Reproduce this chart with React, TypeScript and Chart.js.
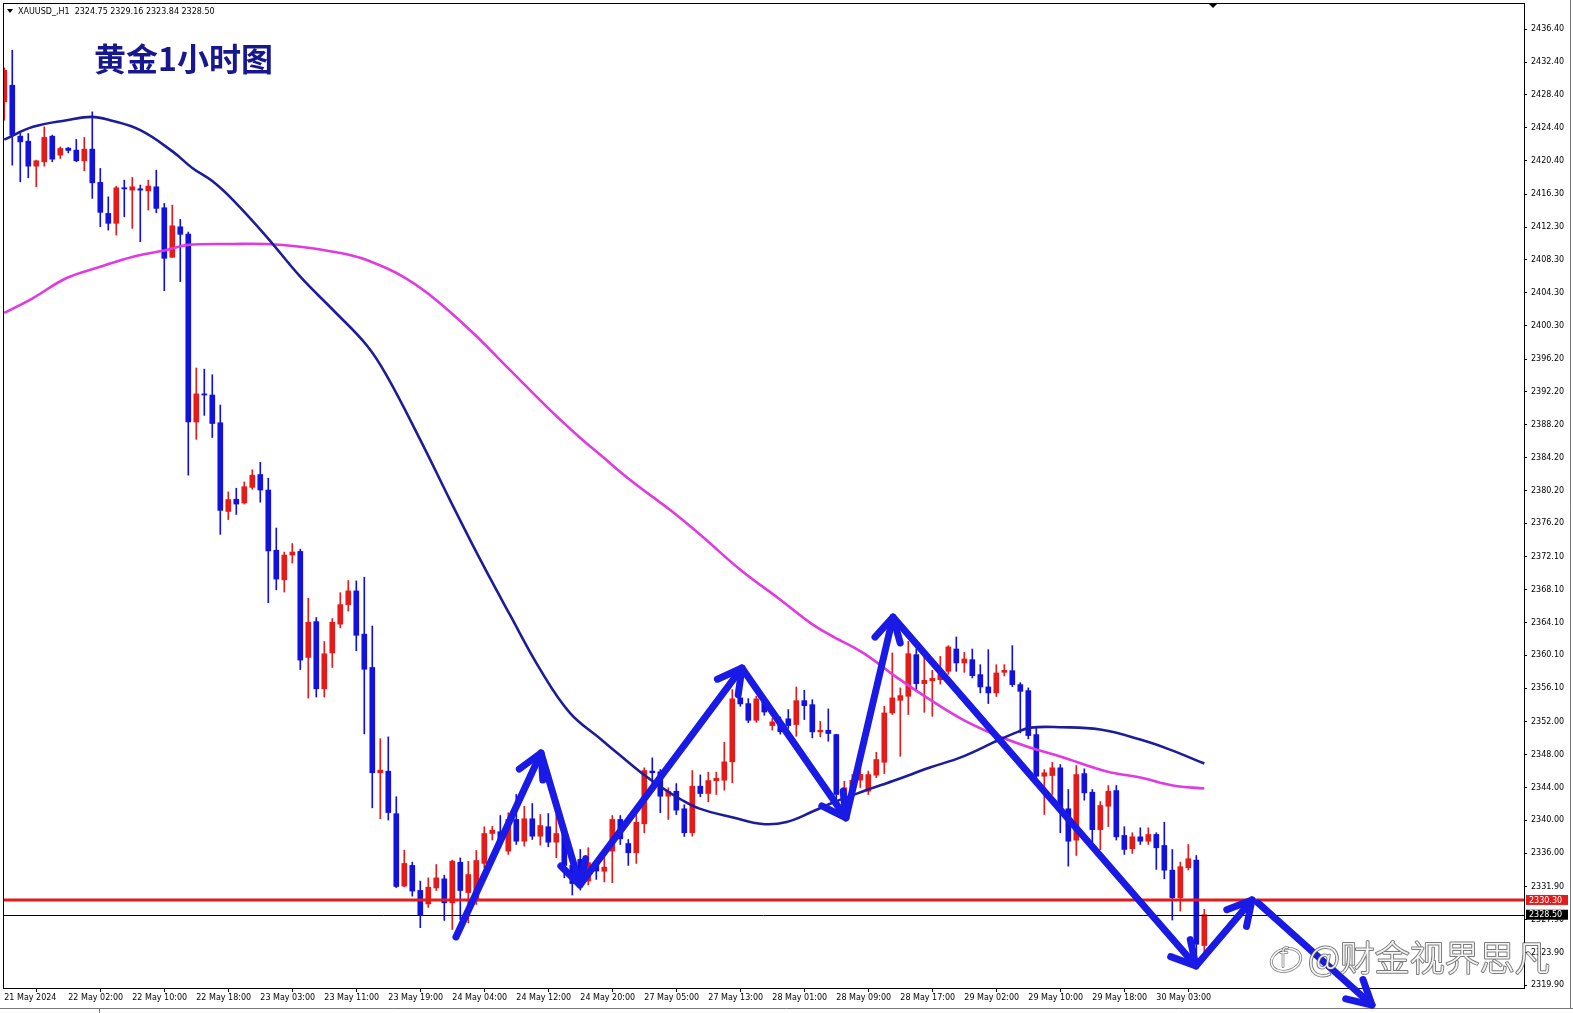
import React, { useEffect, useRef } from 'react';
import { Chart, registerables } from 'chart.js';

Chart.register(...registerables);

// ---- Candles (XAUUSD H1), index 0 = 21 May 18:00 ----
const opens = [
  2427.55, 2429.58, 2423.37, 2422.76, 2419.72, 2420.25, 2423.37, 2421.06, 2421.91, 2421.67,
  2420.37, 2421.79, 2417.74, 2413.96, 2412.75, 2417.08, 2416.80, 2416.96, 2416.71, 2417.20,
  2414.65, 2408.61, 2412.33, 2411.44, 2388.54, 2391.97, 2391.83, 2388.45, 2377.64, 2379.13,
  2378.67, 2380.57, 2382.14, 2380.25, 2372.91, 2369.31, 2372.33, 2372.77, 2359.85, 2364.22,
  2356.03, 2360.40, 2363.91, 2366.29, 2367.96, 2362.69, 2358.63, 2345.80, 2345.99, 2340.81,
  2331.99, 2334.51, 2331.46, 2329.82, 2331.77, 2332.87, 2329.95, 2334.89, 2331.20, 2330.36,
  2334.75, 2338.40, 2338.61, 2336.25, 2340.11, 2337.46, 2340.19, 2338.07, 2339.22, 2337.34,
  2338.40, 2334.50, 2335.24, 2332.60, 2334.84, 2333.80, 2336.25, 2340.11, 2337.18, 2336.05,
  2339.58, 2346.00, 2345.91, 2342.94, 2343.55, 2341.41, 2338.49, 2344.16, 2343.27, 2344.83,
  2344.89, 2347.13, 2354.92, 2354.23, 2352.19, 2354.50, 2351.55, 2352.00, 2352.37, 2351.67,
  2354.59, 2354.10, 2350.78, 2350.98, 2350.45, 2343.15, 2343.88, 2344.90, 2343.55, 2345.50,
  2347.08, 2353.09, 2354.63, 2355.12, 2360.19, 2356.66, 2357.00, 2357.14, 2358.16, 2360.88,
  2359.18, 2359.58, 2357.76, 2356.26, 2355.53, 2358.04, 2358.24, 2356.54, 2355.81, 2350.45,
  2345.38, 2345.46, 2346.40, 2341.41, 2337.59, 2345.70, 2343.43, 2338.86, 2341.72, 2343.63,
  2338.16, 2336.54, 2337.99, 2337.46, 2338.28, 2336.94, 2333.93, 2330.57, 2334.22, 2335.15,
  2324.75,
];
const highs = [
  2431.70, 2433.84, 2423.70, 2423.70, 2420.45, 2424.51, 2423.50, 2422.07, 2422.00, 2422.97,
  2423.22, 2426.33, 2419.44, 2415.98, 2417.29, 2418.02, 2418.35, 2417.41, 2418.02, 2419.23,
  2415.18, 2414.97, 2413.23, 2411.69, 2395.12, 2394.98, 2394.30, 2390.61, 2380.02, 2380.47,
  2381.24, 2382.72, 2383.63, 2381.69, 2375.62, 2372.69, 2373.73, 2373.05, 2367.06, 2364.72,
  2361.79, 2364.59, 2367.74, 2369.23, 2369.18, 2369.63, 2363.68, 2349.95, 2350.17, 2342.88,
  2336.37, 2334.91, 2332.60, 2332.99, 2334.62, 2333.32, 2335.15, 2335.42, 2335.00, 2336.33,
  2339.22, 2339.25, 2340.59, 2340.92, 2343.15, 2341.72, 2342.05, 2340.71, 2340.83, 2340.71,
  2339.00, 2335.20, 2336.45, 2336.66, 2335.00, 2335.50, 2340.59, 2340.59, 2337.67, 2340.71,
  2346.40, 2347.61, 2346.19, 2343.96, 2344.48, 2341.90, 2346.07, 2345.53, 2345.87, 2345.87,
  2349.52, 2355.93, 2356.37, 2354.84, 2355.12, 2355.00, 2352.40, 2352.60, 2353.50, 2356.26,
  2355.84, 2354.70, 2352.07, 2353.58, 2350.50, 2344.77, 2345.58, 2346.50, 2346.00, 2348.30,
  2353.90, 2360.40, 2356.14, 2361.81, 2360.88, 2359.98, 2358.28, 2359.98, 2361.29, 2362.35,
  2360.48, 2360.88, 2358.97, 2360.80, 2358.97, 2358.97, 2361.29, 2356.78, 2356.14, 2351.46,
  2346.19, 2347.08, 2346.80, 2343.76, 2346.68, 2346.28, 2343.76, 2342.30, 2344.24, 2344.24,
  2339.22, 2338.49, 2339.09, 2339.09, 2338.49, 2339.77, 2336.45, 2334.91, 2337.06, 2335.72,
  2329.16,
];
const lows = [
  2425.32, 2419.84, 2417.81, 2418.30, 2417.20, 2419.72, 2420.25, 2420.66, 2421.34, 2420.25,
  2419.15, 2415.79, 2412.33, 2411.93, 2411.32, 2413.55, 2412.14, 2410.51, 2414.37, 2414.04,
  2404.54, 2408.61, 2405.64, 2382.06, 2386.43, 2389.35, 2386.65, 2374.85, 2376.65, 2377.28,
  2378.54, 2380.34, 2378.77, 2366.52, 2368.09, 2367.82, 2371.34, 2358.37, 2354.90, 2355.03,
  2355.03, 2358.63, 2363.45, 2365.49, 2360.67, 2350.54, 2341.53, 2340.18, 2340.04, 2331.80,
  2331.90, 2330.77, 2326.92, 2329.39, 2331.45, 2327.80, 2326.71, 2327.89, 2327.50, 2329.75,
  2334.22, 2337.61, 2336.66, 2335.85, 2337.06, 2336.86, 2337.67, 2336.98, 2336.78, 2335.44,
  2333.00, 2330.90, 2331.50, 2332.14, 2332.80, 2332.50, 2332.40, 2337.06, 2334.51, 2334.75,
  2338.49, 2344.16, 2340.92, 2340.11, 2340.71, 2338.04, 2338.07, 2342.87, 2342.26, 2343.15,
  2343.68, 2344.57, 2353.90, 2351.90, 2351.95, 2352.80, 2351.00, 2350.50, 2351.20, 2350.25,
  2352.28, 2350.05, 2350.17, 2349.64, 2342.54, 2342.54, 2343.15, 2344.00, 2343.15, 2345.20,
  2345.70, 2352.90, 2347.81, 2352.89, 2355.90, 2353.17, 2352.68, 2356.60, 2357.80, 2358.16,
  2358.04, 2357.35, 2355.53, 2354.23, 2355.10, 2357.60, 2356.30, 2350.66, 2349.93, 2345.20,
  2340.71, 2343.15, 2338.49, 2334.42, 2335.72, 2342.46, 2337.34, 2336.41, 2339.22, 2337.60,
  2335.85, 2335.97, 2337.06, 2337.06, 2334.02, 2332.88, 2327.85, 2328.94, 2333.95, 2323.67,
  2323.84,
];
const closes = [
  2431.40, 2423.50, 2422.68, 2419.72, 2420.37, 2423.22, 2420.57, 2421.88, 2421.63, 2420.37,
  2421.79, 2417.69, 2414.09, 2412.75, 2417.08, 2416.96, 2417.20, 2416.80, 2417.29, 2414.57,
  2408.49, 2412.45, 2411.41, 2388.54, 2391.97, 2391.83, 2388.36, 2377.77, 2379.09, 2378.54,
  2380.66, 2382.06, 2380.25, 2372.83, 2369.40, 2372.33, 2372.69, 2359.53, 2364.14, 2356.03,
  2360.30, 2364.14, 2366.29, 2367.96, 2362.55, 2358.41, 2345.80, 2346.12, 2340.95, 2331.94,
  2334.75, 2331.38, 2328.42, 2331.85, 2332.99, 2329.95, 2335.03, 2331.45, 2333.40, 2335.11,
  2338.40, 2338.80, 2337.55, 2340.11, 2337.46, 2340.19, 2338.07, 2339.37, 2337.34, 2338.40,
  2334.50, 2332.30, 2331.99, 2334.84, 2333.82, 2334.30, 2340.11, 2337.75, 2336.05, 2339.77,
  2346.07, 2345.80, 2342.94, 2343.55, 2341.24, 2338.49, 2344.16, 2343.27, 2344.85, 2345.13,
  2347.13, 2354.80, 2354.19, 2352.19, 2354.80, 2353.20, 2352.00, 2350.80, 2351.55, 2354.59,
  2353.98, 2350.78, 2350.98, 2350.58, 2343.15, 2343.97, 2344.89, 2345.60, 2345.58, 2347.41,
  2353.09, 2354.92, 2355.20, 2360.31, 2356.66, 2357.06, 2357.30, 2357.76, 2361.13, 2359.18,
  2359.67, 2357.63, 2356.26, 2355.53, 2357.96, 2358.28, 2356.54, 2355.72, 2350.33, 2345.38,
  2345.79, 2346.40, 2341.24, 2337.46, 2345.58, 2343.35, 2338.86, 2341.81, 2343.55, 2337.99,
  2336.45, 2338.00, 2337.46, 2338.28, 2336.66, 2333.93, 2330.57, 2334.35, 2335.32, 2324.90,
  2328.50,
];

// ---- Moving averages (bar index, price) ----
const maFastIdx = [0, 3.6, 7.8, 10.9, 13.2, 17, 21.1, 23.5, 26, 28.6, 32.8, 37, 41.1, 45.3, 47.8, 52, 55.7, 59.5, 63.2, 67, 70.7, 74.5, 77, 79.5, 82, 84.5, 87, 91.1, 94.8, 97.8, 101.1, 103.6, 107.3, 111.6, 115.7, 119.8, 124.1, 126.6, 128.3, 131.9, 137, 142, 145.7, 150];
const maFastVal = [2422.95, 2424.51, 2425.32, 2425.72, 2425.32, 2424.10, 2421.46, 2419.50, 2417.90, 2415.58, 2411.11, 2406.25, 2402.19, 2397.90, 2394.20, 2386.37, 2379.06, 2371.76, 2365.06, 2358.37, 2353.10, 2349.95, 2347.90, 2345.90, 2344.13, 2342.60, 2341.40, 2340.35, 2339.55, 2339.80, 2341.10, 2342.17, 2343.51, 2344.97, 2346.43, 2347.77, 2349.70, 2350.75, 2351.30, 2351.35, 2351.06, 2349.84, 2348.62, 2346.92];
const maSlowIdx = [0, 3.6, 7.8, 12, 16.1, 20.3, 22.8, 28.6, 32.8, 37, 41.1, 43.2, 45.3, 49.5, 53.2, 58.2, 63.2, 68.2, 72, 74.5, 78.2, 83.2, 87, 92, 97, 100.7, 103.2, 107.3, 111.6, 115.7, 119.8, 124.1, 128.2, 132, 137.8, 142, 146.1, 150];
const maSlowVal = [2401.83, 2403.65, 2406.09, 2407.46, 2408.68, 2409.50, 2410.10, 2410.23, 2410.23, 2409.90, 2409.29, 2408.89, 2408.28, 2406.45, 2404.02, 2399.76, 2394.89, 2390.02, 2386.60, 2384.54, 2381.50, 2377.84, 2374.80, 2370.54, 2366.89, 2364.10, 2362.60, 2360.44, 2357.39, 2354.71, 2352.28, 2350.33, 2348.87, 2347.77, 2345.95, 2345.22, 2344.24, 2343.88];

// ---- Axis ticks ----
const xTickIdx = [0, 8, 16, 24, 32, 40, 48, 56, 64, 72, 80, 88, 96, 104, 112, 120, 128, 136, 144];
const xTickLabels = ['21 May 2024', '22 May 02:00', '22 May 10:00', '22 May 18:00', '23 May 03:00', '23 May 11:00', '23 May 19:00', '24 May 04:00', '24 May 12:00', '24 May 20:00', '27 May 05:00', '27 May 13:00', '28 May 01:00', '28 May 09:00', '28 May 17:00', '29 May 02:00', '29 May 10:00', '29 May 18:00', '30 May 03:00'];
const yTickValues = [2436.40, 2432.40, 2428.40, 2424.40, 2420.40, 2416.30, 2412.30, 2408.30, 2404.30, 2400.30, 2396.20, 2392.20, 2388.20, 2384.20, 2380.20, 2376.20, 2372.10, 2368.10, 2364.10, 2360.10, 2356.10, 2352.00, 2348.00, 2344.00, 2340.00, 2336.00, 2331.90, 2327.90, 2323.90, 2319.90];

// ---- Levels & annotations (data coordinates) ----
const resistLevel = 2330.30;
const bidPrice = 2328.50;
const zigzagIdx = [56.46, 67.09, 71.96, 92.21, 105.21, 111.09, 148.96, 155.96];
const zigzagVal = [2325.79, 2348.21, 2332.12, 2358.57, 2340.29, 2364.78, 2322.25, 2330.30];
const forecastIdx = [156.71, 170.96];
const forecastVal = [2329.93, 2317.50];

const symbolHeader = 'XAUUSD_,H1  2324.75 2329.16 2323.84 2328.50';
const titleText = '黄金1小时图';
const watermarkText = '@财金视界思凡';

const RED = '#e31b1b';
const BLUE = '#1212dc';
const ARROW = '#1a1ae6';
const AXIS_FONT = '"DejaVu Sans", sans-serif';

function arrowHead(ctx: CanvasRenderingContext2D, x0: number, y0: number, x1: number, y1: number) {
  const a = Math.atan2(y1 - y0, x1 - x0);
  const len = 27;
  const ang = 0.5;
  ctx.beginPath();
  ctx.moveTo(x1 - len * Math.cos(a - ang), y1 - len * Math.sin(a - ang));
  ctx.lineTo(x1, y1);
  ctx.lineTo(x1 - len * Math.cos(a + ang), y1 - len * Math.sin(a + ang));
  ctx.stroke();
}

const overlayPlugin = {
  id: 'mt4overlay',
  afterDatasetsDraw(chart: any) {
    const { ctx, chartArea: a, scales } = chart;
    const y = scales.y;
    ctx.save();
    const by = Math.round(y.getPixelForValue(bidPrice)) + 0.5;
    ctx.strokeStyle = '#000';
    ctx.lineWidth = 1;
    ctx.beginPath();
    ctx.moveTo(a.left, by);
    ctx.lineTo(a.right, by);
    ctx.stroke();
    const ry = y.getPixelForValue(resistLevel);
    ctx.strokeStyle = RED;
    ctx.lineWidth = 3;
    ctx.beginPath();
    ctx.moveTo(a.left, ry);
    ctx.lineTo(a.right, ry);
    ctx.stroke();
    ctx.strokeStyle = '#000';
    ctx.lineWidth = 1;
    ctx.strokeRect(Math.round(a.left) + 0.5, Math.round(a.top) + 0.5, Math.round(a.right - a.left), Math.round(a.bottom - a.top));
    ctx.restore();
  },
  afterDraw(chart: any) {
    const { ctx, chartArea: a, scales, width, height } = chart;
    const x = scales.x;
    const y = scales.y;
    ctx.save();

    const boxes = [
      { v: resistLevel, bg: RED },
      { v: bidPrice, bg: '#000' },
    ];
    ctx.font = '8px ' + AXIS_FONT;
    ctx.textBaseline = 'middle';
    ctx.textAlign = 'left';
    boxes.forEach((b) => {
      const py = y.getPixelForValue(b.v);
      ctx.fillStyle = b.bg;
      ctx.fillRect(a.right + 2, py - 5, 42, 10);
      ctx.fillStyle = '#fff';
      ctx.fillText(b.v.toFixed(2), a.right + 5, py + 0.5);
    });

    ctx.strokeStyle = '#777';
    ctx.lineWidth = 1;
    ctx.beginPath();
    ctx.moveTo(1570.5, 0);
    ctx.lineTo(1570.5, 1008.5);
    ctx.moveTo(0, 1008.5);
    ctx.lineTo(width, 1008.5);
    ctx.moveTo(99.5, 1008.5);
    ctx.lineTo(99.5, height);
    ctx.stroke();

    ctx.fillStyle = '#000';
    ctx.beginPath();
    ctx.moveTo(1209, a.top + 1);
    ctx.lineTo(1217, a.top + 1);
    ctx.lineTo(1213, a.top + 5);
    ctx.closePath();
    ctx.fill();

    ctx.beginPath();
    ctx.moveTo(7, 9);
    ctx.lineTo(13, 9);
    ctx.lineTo(10, 13);
    ctx.closePath();
    ctx.fill();
    ctx.font = '8px ' + AXIS_FONT;
    ctx.textBaseline = 'middle';
    ctx.fillText(symbolHeader, 18, 11.5);

    ctx.font = 'bold 32px "Noto Sans CJK SC", sans-serif';
    ctx.fillStyle = '#17178e';
    ctx.textBaseline = 'middle';
    ctx.fillText(titleText, 94, 59);

    ctx.strokeStyle = ARROW;
    ctx.lineWidth = 7;
    ctx.lineCap = 'round';
    ctx.lineJoin = 'round';
    const pts = zigzagIdx.map((k, i) => [x.getPixelForValue(k), y.getPixelForValue(zigzagVal[i])]);
    ctx.beginPath();
    pts.forEach((p, i) => (i === 0 ? ctx.moveTo(p[0], p[1]) : ctx.lineTo(p[0], p[1])));
    ctx.stroke();
    for (let i = 1; i < pts.length; i++) {
      arrowHead(ctx, pts[i - 1][0], pts[i - 1][1], pts[i][0], pts[i][1]);
    }
    const f0 = [x.getPixelForValue(forecastIdx[0]), y.getPixelForValue(forecastVal[0])];
    const f1 = [x.getPixelForValue(forecastIdx[1]), y.getPixelForValue(forecastVal[1])];
    ctx.beginPath();
    ctx.moveTo(f0[0], f0[1]);
    ctx.lineTo(f1[0], f1[1]);
    ctx.stroke();
    arrowHead(ctx, f0[0], f0[1], f1[0], f1[1]);

    ctx.lineCap = 'butt';
    ctx.font = '300 35px "Noto Sans CJK SC", sans-serif';
    ctx.textBaseline = 'middle';
    ctx.textAlign = 'left';
    ctx.lineWidth = 2;
    ctx.strokeStyle = 'rgba(80,80,80,0.75)';
    ctx.strokeText(watermarkText, 1308, 958);
    ctx.fillStyle = 'rgba(255,255,255,0.92)';
    ctx.fillText(watermarkText, 1308, 958);
    ctx.save();
    ctx.translate(1286, 960);
    ctx.rotate(-0.3);
    ctx.beginPath();
    ctx.ellipse(0, 0, 15, 11, 0, 0, Math.PI * 2);
    ctx.strokeStyle = 'rgba(80,80,80,0.75)';
    ctx.lineWidth = 3;
    ctx.stroke();
    ctx.strokeStyle = 'rgba(255,255,255,0.95)';
    ctx.lineWidth = 1.5;
    ctx.stroke();
    ctx.restore();
    ctx.font = '300 26px "DejaVu Sans", sans-serif';
    ctx.lineWidth = 1.5;
    ctx.strokeStyle = 'rgba(80,80,80,0.75)';
    ctx.strokeText('f', 1279, 960);
    ctx.fillStyle = 'rgba(255,255,255,0.95)';
    ctx.fillText('f', 1279, 960);

    ctx.restore();
  },
};

export default function App() {
  const canvasRef = useRef<HTMLCanvasElement | null>(null);

  useEffect(() => {
    document.body.style.margin = '0';
    const canvas = canvasRef.current;
    if (!canvas) return;

    const colors = opens.map((o, i) => (closes[i] >= o ? RED : BLUE));
    const wicks = opens.map((_, i) => ({ x: i, y: [lows[i], highs[i]] }));
    const bodies = opens.map((o, i) => {
      let lo = Math.min(o, closes[i]);
      let hi = Math.max(o, closes[i]);
      if (hi - lo < 0.14) {
        const m = (hi + lo) / 2;
        lo = m - 0.07;
        hi = m + 0.07;
      }
      return { x: i, y: [lo, hi] };
    });

    const chart = new Chart(canvas, {
      type: 'bar',
      data: {
        datasets: [
          {
            type: 'line',
            data: maFastIdx.map((k, i) => ({ x: k, y: maFastVal[i] })),
            borderColor: '#1d1d9c',
            borderWidth: 2.6,
            pointRadius: 0,
            tension: 0.4,
            order: 0,
          } as any,
          {
            type: 'line',
            data: maSlowIdx.map((k, i) => ({ x: k, y: maSlowVal[i] })),
            borderColor: '#e03ae0',
            borderWidth: 2.6,
            pointRadius: 0,
            tension: 0.4,
            order: 0,
          } as any,
          {
            type: 'bar',
            data: bodies as any,
            backgroundColor: colors,
            borderWidth: 0,
            barThickness: 5,
            grouped: false,
            order: 1,
          } as any,
          {
            type: 'bar',
            data: wicks as any,
            backgroundColor: colors,
            borderWidth: 0,
            barThickness: 1,
            grouped: false,
            order: 2,
          } as any,
        ],
      },
      options: {
        responsive: false,
        animation: false,
        devicePixelRatio: 1,
        events: [],
        layout: { padding: { left: 3, top: 3, right: 0, bottom: 0 } },
        plugins: { legend: { display: false }, tooltip: { enabled: false } },
        scales: {
          x: {
            type: 'linear',
            offset: false,
            min: -0.16,
            max: 189.96,
            afterBuildTicks: (s: any) => {
              s.ticks = xTickIdx.map((v) => ({ value: v }));
            },
            afterFit: (s: any) => {
              s.height = 25;
              s.paddingLeft = 0;
              s.paddingRight = 0;
              s.paddingTop = 0;
              s.paddingBottom = 0;
            },
            ticks: {
              autoSkip: false,
              maxRotation: 0,
              minRotation: 0,
              align: 'start',
              padding: 1,
              color: '#000',
              font: { family: AXIS_FONT, size: 8 },
              callback: (v: any) => {
                const i = xTickIdx.indexOf(Number(v));
                return i >= 0 ? xTickLabels[i] : '';
              },
            },
            grid: { display: true, drawOnChartArea: false, drawTicks: true, tickLength: 4, color: '#000' },
            border: { display: true, color: '#000' },
          },
          y: {
            type: 'linear',
            position: 'right',
            min: 2319.57,
            max: 2439.6,
            afterBuildTicks: (s: any) => {
              s.ticks = yTickValues.map((v) => ({ value: v }));
            },
            afterFit: (s: any) => {
              s.width = 49;
              s.paddingTop = 0;
              s.paddingBottom = 0;
              s.paddingLeft = 0;
              s.paddingRight = 0;
            },
            ticks: {
              autoSkip: false,
              padding: 4,
              color: '#000',
              font: { family: AXIS_FONT, size: 8 },
              callback: (v: any) => Number(v).toFixed(2),
            },
            grid: { display: true, drawOnChartArea: false, drawTicks: true, tickLength: 3, color: '#000' },
            border: { display: true, color: '#000' },
          },
        },
      } as any,
      plugins: [overlayPlugin],
    });

    return () => chart.destroy();
  }, []);

  return (
    <div style={{ position: 'fixed', left: 0, top: 0, width: 1573, height: 1013, background: '#fff' }}>
      <canvas ref={canvasRef} width={1573} height={1013} />
    </div>
  );
}
